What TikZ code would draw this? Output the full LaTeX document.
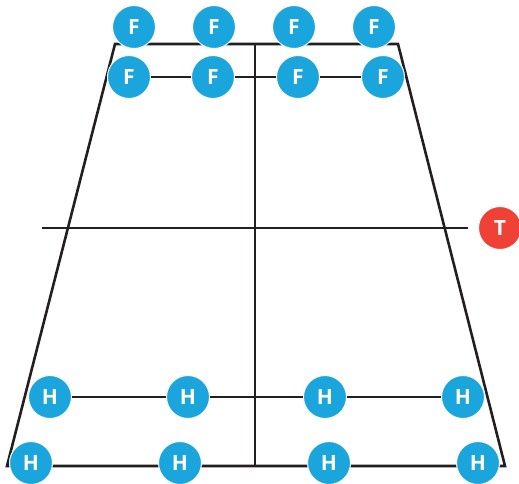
\documentclass[tikz,border=0pt]{standalone}
\usepackage{fontspec}
\setmainfont{Open Sans}
\definecolor{bl}{HTML}{1AA5DD}
\definecolor{rd}{HTML}{EF4136}
\definecolor{ln}{HTML}{231F20}
\begin{document}
\begin{tikzpicture}[x=1pt,y=-1pt,
  ball/.style={circle,fill=bl,draw=white,line width=1pt,minimum size=43pt,inner sep=0pt,text=white,font=\fontsize{21}{21}\selectfont\bfseries},
  tball/.style={ball,fill=rd},
  wire/.style={draw=ln,line width=2.6pt}]
\useasboundingbox (0,0) rectangle (519,483);
\coordinate (tl) at (115,44);
\coordinate (tr) at (398,44);
\coordinate (bl) at (7,466);
\coordinate (br) at (505,466);
\coordinate (tm) at (255,44);
\coordinate (bm) at (255,466);
\coordinate (ml) at (42,228);
\coordinate (mr) at (468,228);
\draw[wire] (bl) -- (tl) -- (tr) -- (br) -- cycle;
\draw[wire] (tm) -- (bm);
\draw[wire] (ml) -- (mr);
% F rows
\node[ball] (f1) at (134,27) {F};
\node[ball] (f2) at (214,27) {F};
\node[ball] (f3) at (294,27) {F};
\node[ball] (f4) at (374,27) {F};
\node[ball] (g1) at (129,77) {F};
\node[ball] (g2) at (213,77) {F};
\node[ball] (g3) at (298,77) {F};
\node[ball] (g4) at (383,77) {F};
\draw[wire] (g1) -- (g2) (g2) -- (g3) (g3) -- (g4);
% H rows
\node[ball] (h1) at (50,397) {H};
\node[ball] (h2) at (188,397) {H};
\node[ball] (h3) at (325,397) {H};
\node[ball] (h4) at (463,397) {H};
\draw[wire] (h1) -- (h2) (h2) -- (h3) (h3) -- (h4);
\node[ball] (k1) at (31,463) {H};
\node[ball] (k2) at (180,463) {H};
\node[ball] (k3) at (329,463) {H};
\node[ball] (k4) at (478,463) {H};
% T
\node[tball] (t) at (500,228) {T};
\end{tikzpicture}
\end{document}
